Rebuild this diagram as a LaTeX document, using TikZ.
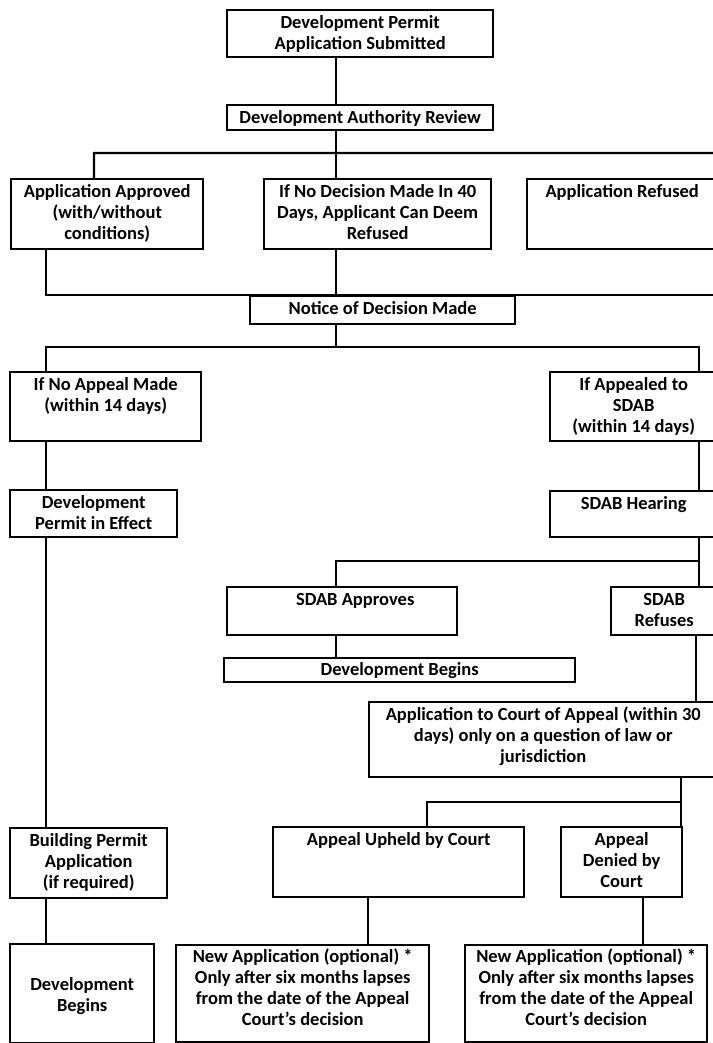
\documentclass[tikz,border=0pt]{standalone}
\usepackage{fontspec}
\setmainfont{Carlito}
\newcommand{\boxtext}[4][18.5]{\parbox[c][#3pt][t]{#2pt}{\centering\rule{0pt}{#1pt}#4}}
\begin{document}
\begin{tikzpicture}[x=1pt,y=-1pt,line width=2.4pt,
  stage/.style={draw,inner sep=0pt,anchor=north west,font=\fontsize{18.5}{21}\selectfont\bfseries}]
\useasboundingbox (0,0) rectangle (712,1043);
% boxes
\node[stage] (submit) at (226,9) {\boxtext{266}{47}{Development Permit\\Application Submitted}};
\node[stage] (review) at (226,104) {\boxtext{266}{25}{Development Authority Review}};
\node[stage] (approved) at (10,178) {\boxtext{192}{70}{Application Approved\\(with/without\\conditions)}};
\node[stage] (nodecision) at (263,178) {\boxtext{227}{70}{If No Decision Made In 40\\Days, Applicant Can Deem\\Refused}};
\node[stage] (refused) at (526,178) {\boxtext{190}{70}{Application Refused}};
\node[stage] (notice) at (249,295) {\boxtext{265}{28}{Notice of Decision Made}};
\node[stage] (noappeal) at (9,371) {\boxtext{191}{69}{If No Appeal Made\\(within 14 days)}};
\node[stage] (appealed) at (549,371) {\boxtext{167}{69}{If Appealed to\\SDAB\\(within 14 days)}};
\node[stage] (permit) at (9,489) {\boxtext{167}{47}{Development\\Permit in Effect}};
\node[stage] (hearing) at (549,490) {\boxtext{167}{46}{SDAB Hearing}};
\node[stage] (approves) at (226,586) {\boxtext{230}{48}{\hspace*{26pt}SDAB Approves}};
\node[stage] (sdabrefuses) at (610,586) {\boxtext{106}{48}{SDAB\\Refuses}};
\node[stage] (begins2) at (223,657) {\boxtext[17.5]{351}{24}{Development Begins}};
\node[stage] (court) at (368,701) {\boxtext{348}{75}{Application to Court of Appeal (within 30\\days) only on a question of law or\\jurisdiction}};
\node[stage] (building) at (9,827) {\boxtext{157}{70}{Building Permit\\Application\\(if required)}};
\node[stage] (upheld) at (272,826) {\boxtext{251}{70}{Appeal Upheld by Court}};
\node[stage] (denied) at (560,826) {\boxtext{121}{70}{Appeal\\Denied by\\Court}};
\node[stage] (begins) at (9,943) {\boxtext[46]{144}{99}{Development\\Begins}};
\node[stage] (newapp1) at (175,944) {\boxtext[17.5]{253}{97}{New Application (optional) *\\Only after six months lapses\\from the date of the Appeal\\Court’s decision}};
\node[stage] (newapp2) at (464,944) {\boxtext[17.5]{242}{97}{New Application (optional) *\\Only after six months lapses\\from the date of the Appeal\\Court’s decision}};
% review and decision
\coordinate (c1) at (94,153);
\coordinate (c2) at (336,153);
\coordinate (c3) at (716,153);
\draw (submit.south -| c2) -- (review.north -| c2);
\draw (review.south -| c2) -- (nodecision.north -| c2);
\draw (approved.north -| c1) |- (c3) -- (refused.north east);
\coordinate (d1) at (46,295);
\coordinate (d3) at (716,295);
\draw (approved.south -| d1) |- (d3);
\draw (refused.south east) -- (d3);
\draw (nodecision.south -| c2) -- (notice.north -| c2);
% appeal or not
\coordinate (e1) at (46,347);
\coordinate (e2) at (336,347);
\coordinate (e3) at (699,347);
\draw (notice.south -| e2) -- (e2);
\draw (noappeal.north -| e1) |- (e3) -- (appealed.north -| e3);
\draw (noappeal.south -| e1) -- (permit.north -| e1);
\draw (permit.south -| e1) -- (building.north -| e1);
\draw (building.south -| e1) -- (begins.north -| e1);
% SDAB
\coordinate (f1) at (336,561);
\draw (appealed.south -| e3) -- (hearing.north -| e3);
\draw (hearing.south -| e3) -- (sdabrefuses.north -| e3);
\draw (f1 -| e3) -- (f1) -- (approves.north -| f1);
\draw (approves.south -| f1) -- (begins2.north -| f1);
\coordinate (g1) at (696,701);
\draw (sdabrefuses.south -| g1) -- (court.north -| g1);
% court of appeal
\coordinate (h1) at (427,802);
\coordinate (h2) at (681,802);
\draw (court.south -| h2) -- (denied.north -| h2);
\draw (h2) -- (h1) -- (upheld.north -| h1);
\coordinate (k1) at (368,900);
\coordinate (k2) at (643,900);
\draw (upheld.south -| k1) -- (newapp1.north -| k1);
\draw (denied.south -| k2) -- (newapp2.north -| k2);
\end{tikzpicture}
\end{document}
